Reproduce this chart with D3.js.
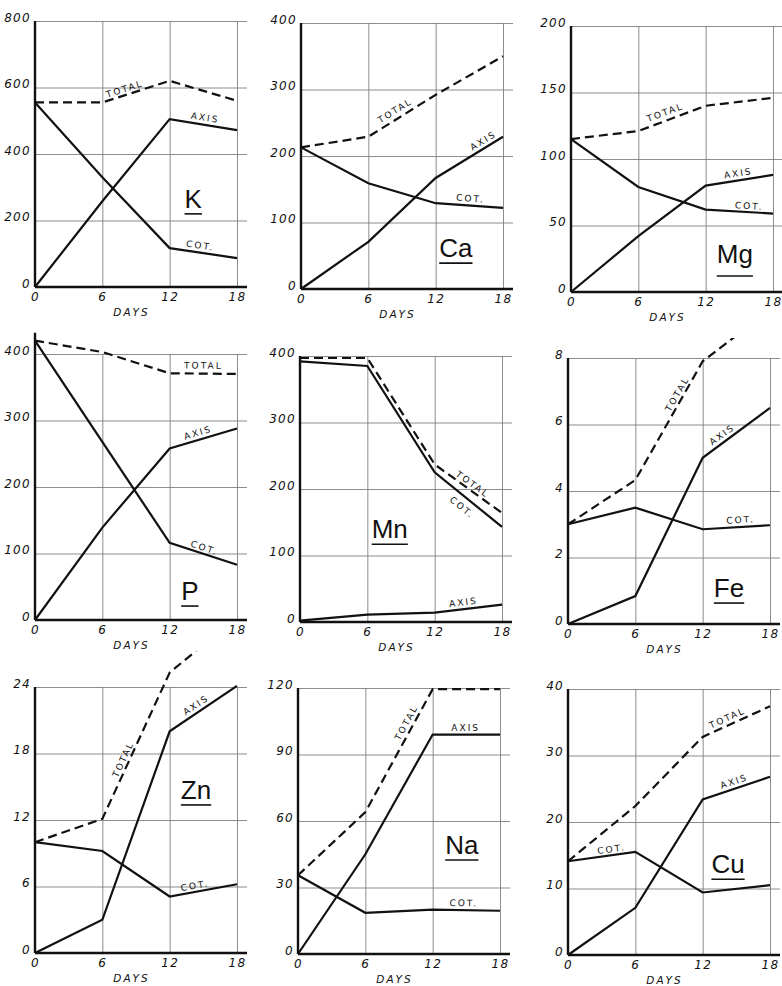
<!DOCTYPE html>
<html>
<head>
<meta charset="utf-8">
<script src="https://cdn.jsdelivr.net/npm/d3@7"></script>
<style>
  html, body { margin: 0; padding: 0; background: #fff; }
  svg { display: block; }
  .tick text { font-family: "DejaVu Sans", sans-serif; font-style: italic; font-size: 12px; letter-spacing: 1.3px; fill: #111; }
  .tag { font-family: "DejaVu Sans", sans-serif; font-size: 9px; letter-spacing: 2px; fill: #111; }
  .days { font-family: "DejaVu Sans", sans-serif; font-style: italic; font-size: 10.5px; letter-spacing: 2px; fill: #111; }
  .el { font-family: "Liberation Sans", Arial, sans-serif; font-size: 26px; fill: #111; }
</style>
</head>
<body>
<svg id="chart" width="782" height="986"></svg>
<script>
// Sampling days (x axis of every panel)
const days = [0, 6, 12, 18];

// Potassium
const kTicks = [0, 200, 400, 600, 800];
const kTotal = [555, 555, 620, 560];
const kAxis  = [0, 258, 505, 472];
const kCot   = [555, 330, 117, 87];

// Calcium
const caTicks = [0, 100, 200, 300, 400];
const caTotal = [213, 229, 292, 350];
const caAxis  = [0, 71, 167, 229];
const caCot   = [213, 159, 129, 122];

// Magnesium
const mgTicks = [0, 50, 100, 150, 200];
const mgTotal = [115, 121, 140, 146];
const mgAxis  = [0, 42, 80, 88];
const mgCot   = [115, 79, 62, 59];

// Phosphorus
const pTicks = [0, 100, 200, 300, 400];
const pTotal = [420, 403, 371, 370];
const pAxis  = [0, 139, 258, 288];
const pCot   = [420, 268, 116, 83];

// Manganese
const mnTicks = [0, 100, 200, 300, 400];
const mnTotal = [397, 397, 237, 164];
const mnAxis  = [2, 11, 14, 26];
const mnCot   = [392, 385, 225, 143];

// Iron
const feTicks = [0, 2, 4, 6, 8];
const feTotal = [3.0, 4.33, 7.9, 9.45];
const feAxis  = [0, 0.84, 5.0, 6.5];
const feCot   = [3.0, 3.5, 2.85, 2.97];

// Zinc
const znTicks = [0, 6, 12, 18, 24];
const znTotal = [10, 12.1, 25.3, 30.3];
const znAxis  = [0, 3.0, 20, 24.1];
const znCot   = [10, 9.2, 5.1, 6.2];

// Sodium
const naTicks = [0, 30, 60, 90, 120];
const naTotal = [35.5, 64, 119.5, 119.5];
const naAxis  = [0, 45, 99, 99];
const naCot   = [35.5, 18.6, 20, 19.5];

// Copper
const cuTicks = [0, 10, 20, 30, 40];
const cuTotal = [14.1, 22.4, 32.8, 37.4];
const cuAxis  = [0, 7.1, 23.4, 26.8];
const cuCot   = [14.1, 15.5, 9.4, 10.5];

// Panel layout: origin of each plot, element symbol spot (day, value),
// and where each curve name sits: [series, text, segment, fraction, offset]
const W = 202, H = 266;
const panels = [
  { el: "K",  x0: 35,  y0: 287, yMax: 800, ticks: kTicks,  total: kTotal,  axis: kAxis,  cot: kCot,  mark: [14.1, 238],
    tags: [["total", "TOTAL", 1, 0.36, 6], ["axis", "AXIS", 2, 0.51, 7], ["cot", "COT.", 2, 0.44, 7]] },
  { el: "Ca", x0: 301, y0: 289, yMax: 400, ticks: caTicks, total: caTotal, axis: caAxis, cot: caCot, mark: [13.8, 48],
    tags: [["total", "TOTAL", 1, 0.46, 8], ["axis", "AXIS", 2, 0.76, 7], ["cot", "COT.", 2, 0.51, 7]] },
  { el: "Mg", x0: 571, y0: 292, yMax: 200, ticks: mgTicks, total: mgTotal, axis: mgAxis, cot: mgCot, mark: [14.6, 21.8],
    tags: [["total", "TOTAL", 1, 0.44, 8], ["axis", "AXIS", 2, 0.5, 7], ["cot", "COT.", 2, 0.64, 6]] },
  { el: "P",  x0: 35,  y0: 620, yMax: 400, axisTop: 432, ticks: pTicks, total: pTotal, axis: pAxis, cot: pCot, mark: [13.8, 30],
    tags: [["total", "TOTAL", 2, 0.5, 8], ["axis", "AXIS", 2, 0.45, 7], ["cot", "COT.", 2, 0.49, 6]] },
  { el: "Mn", x0: 300, y0: 622, yMax: 400, ticks: mnTicks, total: mnTotal, axis: mnAxis, cot: mnCot, mark: [8.0, 126],
    tags: [["total", "TOTAL", 2, 0.51, 6], ["cot", "COT.", 2, 0.5, -10], ["axis", "AXIS", 2, 0.44, 7]] },
  { el: "Fe", x0: 568, y0: 624, yMax: 8, clipAt: 8.6, ticks: feTicks, total: feTotal, axis: feAxis, cot: feCot, mark: [14.35, 0.81],
    tags: [["total", "TOTAL", 1, 0.7, 6], ["axis", "AXIS", 2, 0.35, 7], ["cot", "COT.", 2, 0.57, 7]] },
  { el: "Zn", x0: 35,  y0: 953, yMax: 24, clipAt: 27.2, ticks: znTicks, total: znTotal, axis: znAxis, cot: znCot, mark: [14.35, 13.9],
    tags: [["total", "TOTAL", 1, 0.39, 6], ["axis", "AXIS", 2, 0.45, 7], ["cot", "COT.", 2, 0.39, 6]] },
  { el: "Na", x0: 298, y0: 954, yMax: 120, ticks: naTicks, total: naTotal, axis: naAxis, cot: naCot, mark: [14.6, 45.1],
    tags: [["total", "TOTAL", 1, 0.7, 7], ["axis", "AXIS", 2, 0.49, 7], ["cot", "COT.", 2, 0.46, 7]] },
  { el: "Cu", x0: 568, y0: 955, yMax: 40, ticks: cuTicks, total: cuTotal, axis: cuAxis, cot: cuCot, mark: [14.26, 12.3],
    tags: [["total", "TOTAL", 2, 0.41, 7], ["axis", "AXIS", 2, 0.5, 7], ["cot", "COT.", 0, 0.66, 6]] }
];

const svg = d3.select("#chart");
svg.append("rect").attr("width", 782).attr("height", 986).attr("fill", "#fff");

panels.forEach((p, pi) => {
  const x = d3.scaleLinear().domain([0, 18]).range([p.x0, p.x0 + W]);
  const y = d3.scaleLinear().domain([0, p.yMax]).range([p.y0, p.y0 - H]);
  const g = svg.append("g");
  const ext = 10; // grid runs a little past the last day

  // horizontal grid + value labels
  const gy = g.append("g")
    .attr("transform", `translate(${x(0)},0)`)
    .call(d3.axisLeft(y).tickValues(p.ticks).tickSize(-(W + ext)).tickPadding(4).tickFormat(d3.format("d")));
  gy.select(".domain").remove();
  gy.selectAll(".tick line").attr("stroke", "#808080").attr("stroke-width", 0.9);
  gy.selectAll(".tick text").attr("dy", "0em");

  // vertical grid + day labels
  const gx = g.append("g")
    .attr("transform", `translate(0,${y(0)})`)
    .call(d3.axisBottom(x).tickValues(days).tickSize(-H).tickPadding(5));
  gx.select(".domain").remove();
  gx.selectAll(".tick line").attr("stroke", "#808080").attr("stroke-width", 0.9);

  // heavy axis lines
  g.append("line")
    .attr("x1", x(0)).attr("x2", x(0))
    .attr("y1", y(0)).attr("y2", y(p.axisTop || p.yMax))
    .attr("stroke", "#111").attr("stroke-width", 2.4);
  g.append("line")
    .attr("x1", x(0)).attr("x2", x(18) + ext)
    .attr("y1", y(0)).attr("y2", y(0))
    .attr("stroke", "#111").attr("stroke-width", 2.4);

  g.append("text").attr("class", "days")
    .attr("x", x(8.6)).attr("y", y(0) + 29)
    .attr("text-anchor", "middle").text("DAYS");

  // curves
  const line = d3.line().x((d, i) => x(days[i])).y(d => y(d));
  let clipRef = null;
  if (p.clipAt !== undefined) {
    const id = "clip" + pi;
    svg.append("clipPath").attr("id", id).append("rect")
      .attr("x", x(0) - 5).attr("width", W + 40)
      .attr("y", y(p.clipAt)).attr("height", y(0) - y(p.clipAt) + 5);
    clipRef = `url(#${id})`;
  }
  g.append("path").datum(p.total).attr("d", line)
    .attr("fill", "none").attr("stroke", "#111").attr("stroke-width", 2.2)
    .attr("stroke-dasharray", "9,5").attr("clip-path", clipRef);
  g.append("path").datum(p.axis).attr("d", line)
    .attr("fill", "none").attr("stroke", "#111").attr("stroke-width", 2.2);
  g.append("path").datum(p.cot).attr("d", line)
    .attr("fill", "none").attr("stroke", "#111").attr("stroke-width", 2.2);

  // curve names written along their segments
  p.tags.forEach(([key, txt, seg, t, off]) => {
    const s = p[key];
    const ax = x(days[seg]), ay = y(s[seg]);
    const bx = x(days[seg + 1]), by = y(s[seg + 1]);
    const dx = bx - ax, dy = by - ay, len = Math.hypot(dx, dy);
    const nx = dy / len, ny = -dx / len;
    const cx = ax + dx * t + nx * off, cy = ay + dy * t + ny * off;
    const ang = Math.atan2(dy, dx) * 180 / Math.PI;
    g.append("text").attr("class", "tag")
      .attr("text-anchor", "middle").attr("dominant-baseline", "central")
      .attr("transform", `translate(${cx},${cy}) rotate(${ang})`)
      .text(txt);
  });

  // element symbol, underlined
  const mx = x(p.mark[0]), my = y(p.mark[1]);
  const el = g.append("text").attr("class", "el")
    .attr("x", mx).attr("y", my).attr("text-anchor", "middle").text(p.el);
  const bw = el.node().getComputedTextLength();
  const ul = /[gjpqy]/.test(p.el) ? 13 : 6;
  g.append("line")
    .attr("x1", mx - bw / 2).attr("x2", mx + bw / 2)
    .attr("y1", my + ul).attr("y2", my + ul)
    .attr("stroke", "#111").attr("stroke-width", 1.6);
});
</script>
</body>
</html>
